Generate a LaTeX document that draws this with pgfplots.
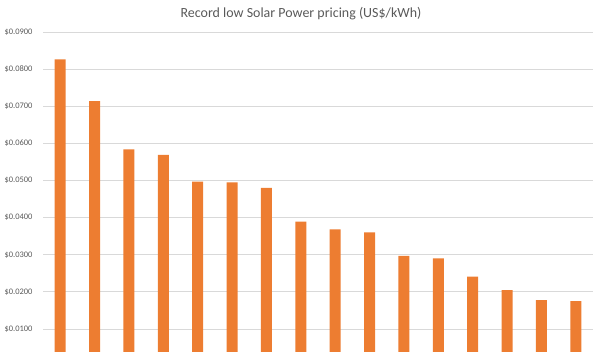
\documentclass[border=0pt]{standalone}
\usepackage{pgfplots}
\pgfplotsset{compat=1.18}
\usepackage{fontspec}
\setmainfont{Carlito}
\definecolor{barorange}{HTML}{ED7D31}
\definecolor{gridgray}{HTML}{D9D9D9}
\definecolor{labelgray}{HTML}{595959}
\begin{document}
\begin{tikzpicture}
\useasboundingbox (0,0) rectangle (600bp,352bp);
\begin{axis}[
  at={(43bp,0bp)}, anchor=south west,
  scale only axis,
  width=550bp, height=320bp,
  xmin=-0.5, xmax=15.5,
  ymin=0.0038, ymax=0.09,
  ybar, bar width=11bp,
  axis line style={draw=none},
  major tick length=0pt,
  xtick=\empty,
  scaled y ticks=false,
  ytick={0.01,0.02,0.03,0.04,0.05,0.06,0.07,0.08,0.09},
  yticklabels={\$0.0100,\$0.0200,\$0.0300,\$0.0400,\$0.0500,\$0.0600,\$0.0700,\$0.0800,\$0.0900},
  yticklabel style={font=\fontsize{8.5}{10}\selectfont, text=labelgray, anchor=east, xshift=-7bp},
  ymajorgrids,
  major grid style={draw=gridgray, line width=0.8bp},
  clip=true,
]
\addplot[fill=barorange, draw=none] coordinates {
(0,0.0826) (1,0.0714) (2,0.0584) (3,0.0569) (4,0.0497) (5,0.0495) (6,0.0480) (7,0.0389)
(8,0.0368) (9,0.0360) (10,0.0297) (11,0.0290) (12,0.0241) (13,0.0205) (14,0.0178) (15,0.0175)
};
\end{axis}
\node[font=\fontsize{14}{16}\selectfont, text=labelgray, anchor=center] at (301bp,338bp) {Record low Solar Power pricing (US\$/kWh)};
\end{tikzpicture}
\end{document}
